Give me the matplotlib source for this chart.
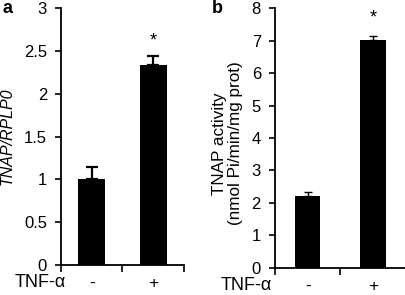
import matplotlib
matplotlib.use("Agg")
import matplotlib.pyplot as plt

# panel a: relative expression
groups = ["-", "+"]
expr_vals = [1.0, 2.33]
expr_err = [0.15, 0.11]

# panel b: enzyme activity
act_vals = [2.2, 7.03]
act_err = [0.14, 0.12]

plt.rcParams["font.family"] = ["Liberation Sans", "DejaVu Sans"]

fig = plt.figure(figsize=(4.06, 2.95), dpi=100)
ax1 = fig.add_axes([0.150, 0.1017, 0.303, 0.871])
ax2 = fig.add_axes([0.677, 0.0925, 0.323, 0.879])

pos = [0.5, 1.5]


def style_axis(ax, ymax, yticks, ticklabels):
    ax.set_xlim(0, 2)
    ax.set_ylim(0, ymax)
    ax.spines["top"].set_visible(False)
    ax.spines["right"].set_visible(False)
    ax.spines["left"].set_linewidth(1.3)
    ax.spines["bottom"].set_linewidth(1.3)
    ax.set_yticks(yticks)
    ax.set_yticklabels(ticklabels)
    ax.set_xticks([0, 1, 2])
    ax.set_xticklabels(["", "", ""])
    ax.set_xticks(pos, minor=True)
    ax.set_xticklabels(groups, minor=True, fontsize=12.5)
    ax.tick_params(axis="x", which="minor", length=0, pad=8)
    ax.tick_params(axis="x", which="major", length=5, width=1.2)
    ax.tick_params(axis="y", length=4, width=1.2, labelsize=12, pad=6)


# panel a
ax1.bar(pos, expr_vals, width=0.44, color="black")
ax1.errorbar(pos, expr_vals, yerr=[[0, 0], expr_err], fmt="none",
             ecolor="black", elinewidth=1.6, capsize=4, capthick=1.6)
style_axis(ax1, 3, [0, 0.5, 1, 1.5, 2, 2.5, 3],
           ["0", "0.5", "1", "1.5", "2", "2.5", "3"])
ax1.set_ylabel("TNAP/RPLP0", fontsize=11.5, style="italic")
ax1.yaxis.set_label_coords(-0.38, 0.5)
ax1.text(1.5, expr_vals[1] + expr_err[1] + 0.17, "*", ha="center", va="center", fontsize=13)
ax1.text(-0.17, -0.07, "TNF-\u03b1", transform=ax1.transAxes, ha="center",
         va="center", fontsize=13)
fig.text(0.006, 0.972, "a", fontsize=13, fontweight="bold", va="center")

# panel b
ax2.bar(pos, act_vals, width=0.39, color="black")
ax2.errorbar(pos, act_vals, yerr=[[0, 0], act_err], fmt="none",
             ecolor="black", elinewidth=1.0, capsize=3, capthick=1.0)
style_axis(ax2, 8, list(range(9)), [str(i) for i in range(9)])
ax2.set_ylabel("TNAP activity\n(nmol Pi/min/mg prot)", fontsize=12.3, linespacing=1.1)
ax2.yaxis.set_label_coords(-0.245, 0.48)
ax2.text(1.5, act_vals[1] + act_err[1] + 0.55, "*", ha="center", va="center", fontsize=13)
ax2.text(-0.217, -0.07, "TNF-\u03b1", transform=ax2.transAxes, ha="center",
         va="center", fontsize=13)
fig.text(0.522, 0.972, "b", fontsize=13, fontweight="bold", va="center")

fig.savefig("out.png", dpi=100)
